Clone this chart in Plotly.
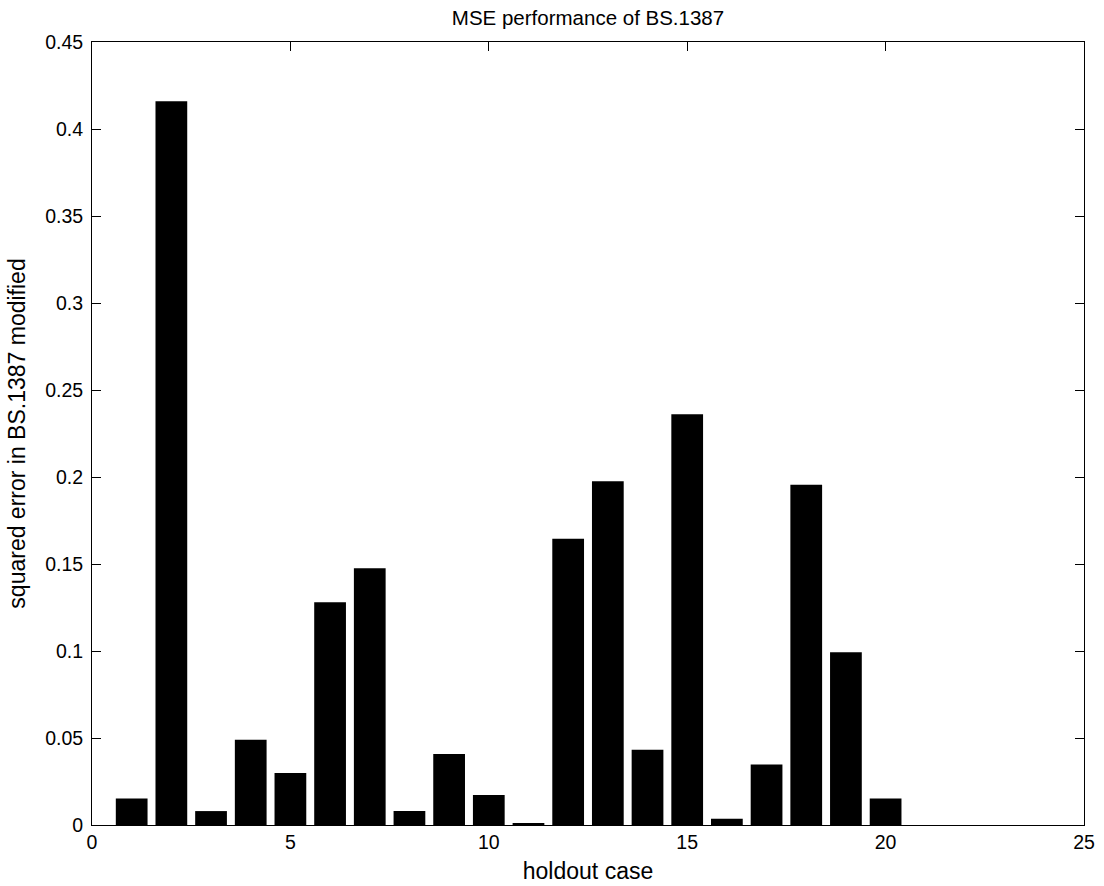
import plotly.graph_objects as go

cases = list(range(1, 21))
squared_error = [0.0153, 0.416, 0.008, 0.049, 0.0299, 0.128, 0.1475, 0.008, 0.0408, 0.0172,
                 0.001, 0.1645, 0.1975, 0.0433, 0.236, 0.0036, 0.0347, 0.1955, 0.0993, 0.0153]
x_ticks = [0, 5, 10, 15, 20, 25]
y_ticks = [0, 0.05, 0.1, 0.15, 0.2, 0.25, 0.3, 0.35, 0.4, 0.45]
y_tick_labels = ["0", "0.05", "0.1", "0.15", "0.2", "0.25", "0.3", "0.35", "0.4", "0.45"]

fig = go.Figure()
fig.add_trace(go.Bar(x=cases, y=squared_error, width=0.8,
                     marker=dict(color="black", line=dict(width=0))))

font = dict(family="Liberation Sans, Arial, Helvetica, sans-serif", size=19.5, color="black")
fig.update_layout(
    width=1104, height=886,
    margin=dict(l=92, r=20, t=42, b=61, autoexpand=False),
    plot_bgcolor="white", paper_bgcolor="white",
    font=font,
    showlegend=False,
    title=dict(text="MSE performance of BS.1387", x=(92 + 1084) / 2 / 1104, xanchor="center",
               y=1 - 18 / 886, yanchor="middle", font=dict(size=20.5)),
)
fig.update_xaxes(range=[0, 25], tickvals=x_ticks, ticks="inside", ticklen=9, tickcolor="black",
                 showline=True, linecolor="black", linewidth=1, mirror="ticks", showgrid=False,
                 zeroline=False, automargin=False,
                 title=dict(text="holdout case", standoff=10), tickfont=dict(size=19.5))
fig.update_yaxes(range=[0, 0.45], tickvals=y_ticks, ticktext=y_tick_labels, ticks="inside", ticklen=9,
                 tickcolor="black", showline=True, linecolor="black", linewidth=1, mirror="ticks",
                 showgrid=False, zeroline=False, automargin=False, ticklabelstandoff=4,
                 title=dict(text="squared error in BS.1387 modified", standoff=13), tickfont=dict(size=19.5))

fig.write_html("out.html", config={"displayModeBar": False},
               post_script="document.body.style.margin='0';document.body.style.padding='0';")
